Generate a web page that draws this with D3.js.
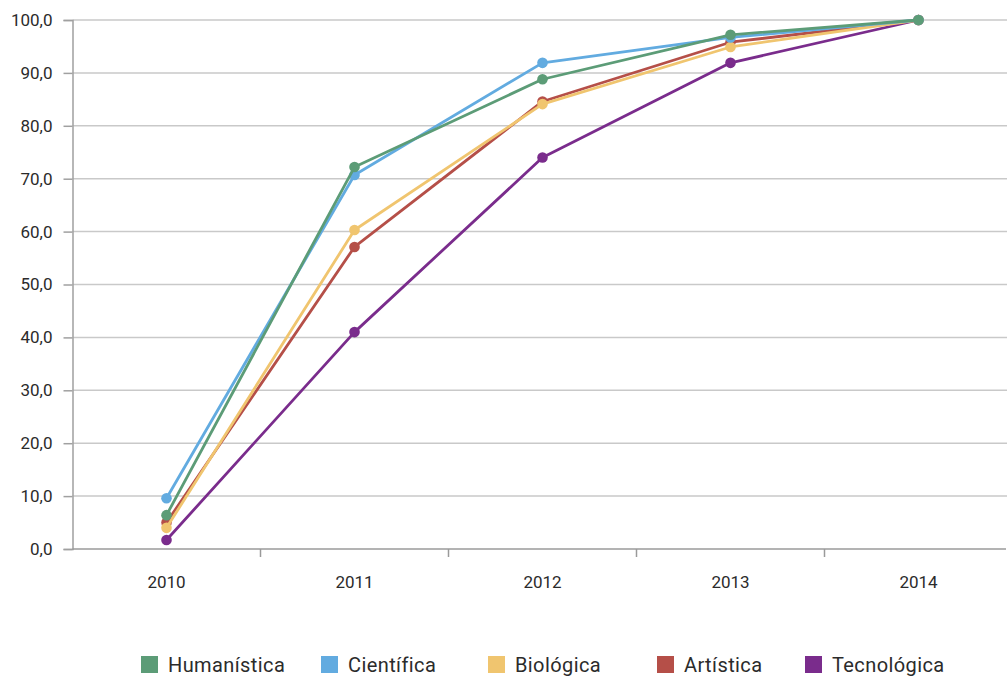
<!DOCTYPE html>
<html>
<head>
<meta charset="utf-8">
<script src="https://cdn.jsdelivr.net/npm/d3@7"></script>
<style>
  html, body { margin: 0; padding: 0; background: #fff; }
  svg { display: block; }
  text { font-family: Roboto, "Noto Sans", sans-serif; fill: #2b2b2b; }
</style>
</head>
<body>
<svg id="chart" width="1007" height="677"></svg>
<script>
// Years on the horizontal axis
const years = ["2010", "2011", "2012", "2013", "2014"];

// Cumulative percentage per area
const humanistica = [6.4, 72.2, 88.8, 97.2, 100];
const cientifica  = [9.6, 70.7, 91.9, 96.7, 100];
const biologica   = [4.0, 60.3, 84.1, 94.9, 100];
const artistica   = [5.0, 57.1, 84.6, 95.8, 100];
const tecnologica = [1.7, 41.0, 74.0, 91.9, 100];

const seriesNames = ["Humanística", "Científica", "Biológica", "Artística", "Tecnológica"];
const seriesValues = [humanistica, cientifica, biologica, artistica, tecnologica];
const seriesColors = ["#5c9c77", "#62abe0", "#f0c56f", "#b54f48", "#7a2c8c"];

// Y tick values
const yTicks = [0, 10, 20, 30, 40, 50, 60, 70, 80, 90, 100];

const svg = d3.select("#chart");
const plotLeft = 72.5, plotTop = 20, plotBottom = 549, plotRight = 1007;

const x = d3.scaleBand().domain(years).range([plotLeft, plotLeft + 5 * 188]);
const y = d3.scaleLinear().domain([0, 100]).range([plotBottom, plotTop]);

const fmt = v => d3.format(".1f")(v).replace(".", ",");

// horizontal gridlines
svg.append("g")
  .selectAll("line")
  .data(yTicks.filter(d => d > 0))
  .join("line")
  .attr("x1", plotLeft).attr("x2", plotRight)
  .attr("y1", d => y(d)).attr("y2", d => y(d))
  .attr("stroke", "#c9c9c9").attr("stroke-width", 1.5);

// y axis
const yAxis = svg.append("g")
  .attr("transform", `translate(${plotLeft},0)`)
  .call(d3.axisLeft(y).tickValues(yTicks).tickFormat(fmt).tickSize(9).tickPadding(11));
yAxis.select(".domain").attr("stroke", "#a0a0a0").attr("stroke-width", 1.5);
yAxis.selectAll(".tick line").attr("stroke", "#a0a0a0").attr("stroke-width", 1.5);
yAxis.selectAll(".tick text").attr("font-size", 17).attr("fill", "#2b2b2b")
  .style("font-family", "Roboto, 'Noto Sans', sans-serif");

// x axis baseline and ticks between categories
const xAxisG = svg.append("g");
xAxisG.append("line")
  .attr("x1", plotLeft).attr("x2", plotRight - 1)
  .attr("y1", plotBottom).attr("y2", plotBottom)
  .attr("stroke", "#9a9a9a").attr("stroke-width", 1.5);
const bounds = years.map(d => x(d)).concat([x(years[years.length - 1]) + x.bandwidth()]);
xAxisG.selectAll("line.tk")
  .data(bounds.filter(b => b > plotLeft + 1 && b < plotRight))
  .join("line").attr("class", "tk")
  .attr("x1", d => d).attr("x2", d => d)
  .attr("y1", plotBottom).attr("y2", plotBottom + 8)
  .attr("stroke", "#9a9a9a").attr("stroke-width", 1.5);
xAxisG.selectAll("text")
  .data(years)
  .join("text")
  .attr("x", d => x(d) + x.bandwidth() / 2)
  .attr("y", 588)
  .attr("text-anchor", "middle")
  .attr("font-size", 17)
  .text(d => d);

// lines and markers, drawn so Humanística ends up on top
const line = d3.line()
  .x((d, i) => x(years[i]) + x.bandwidth() / 2)
  .y(d => y(d));

const order = d3.range(seriesNames.length).reverse();
order.forEach(k => {
  const g = svg.append("g");
  g.append("path")
    .datum(seriesValues[k])
    .attr("d", line)
    .attr("fill", "none")
    .attr("stroke", seriesColors[k])
    .attr("stroke-width", 2.8)
    .attr("stroke-linejoin", "round");
  g.selectAll("circle")
    .data(seriesValues[k])
    .join("circle")
    .attr("cx", (d, i) => x(years[i]) + x.bandwidth() / 2)
    .attr("cy", d => y(d))
    .attr("r", 5.3)
    .attr("fill", seriesColors[k]);
});

// legend
const legendX = [141, 321, 488, 657, 805];
const legend = svg.append("g");
seriesNames.forEach((name, k) => {
  legend.append("rect")
    .attr("x", legendX[k]).attr("y", 656)
    .attr("width", 17).attr("height", 17)
    .attr("fill", seriesColors[k]);
  legend.append("text")
    .attr("x", legendX[k] + 27).attr("y", 672)
    .attr("font-size", 20)
    .attr("letter-spacing", 0.4)
    .text(name);
});
</script>
</body>
</html>
